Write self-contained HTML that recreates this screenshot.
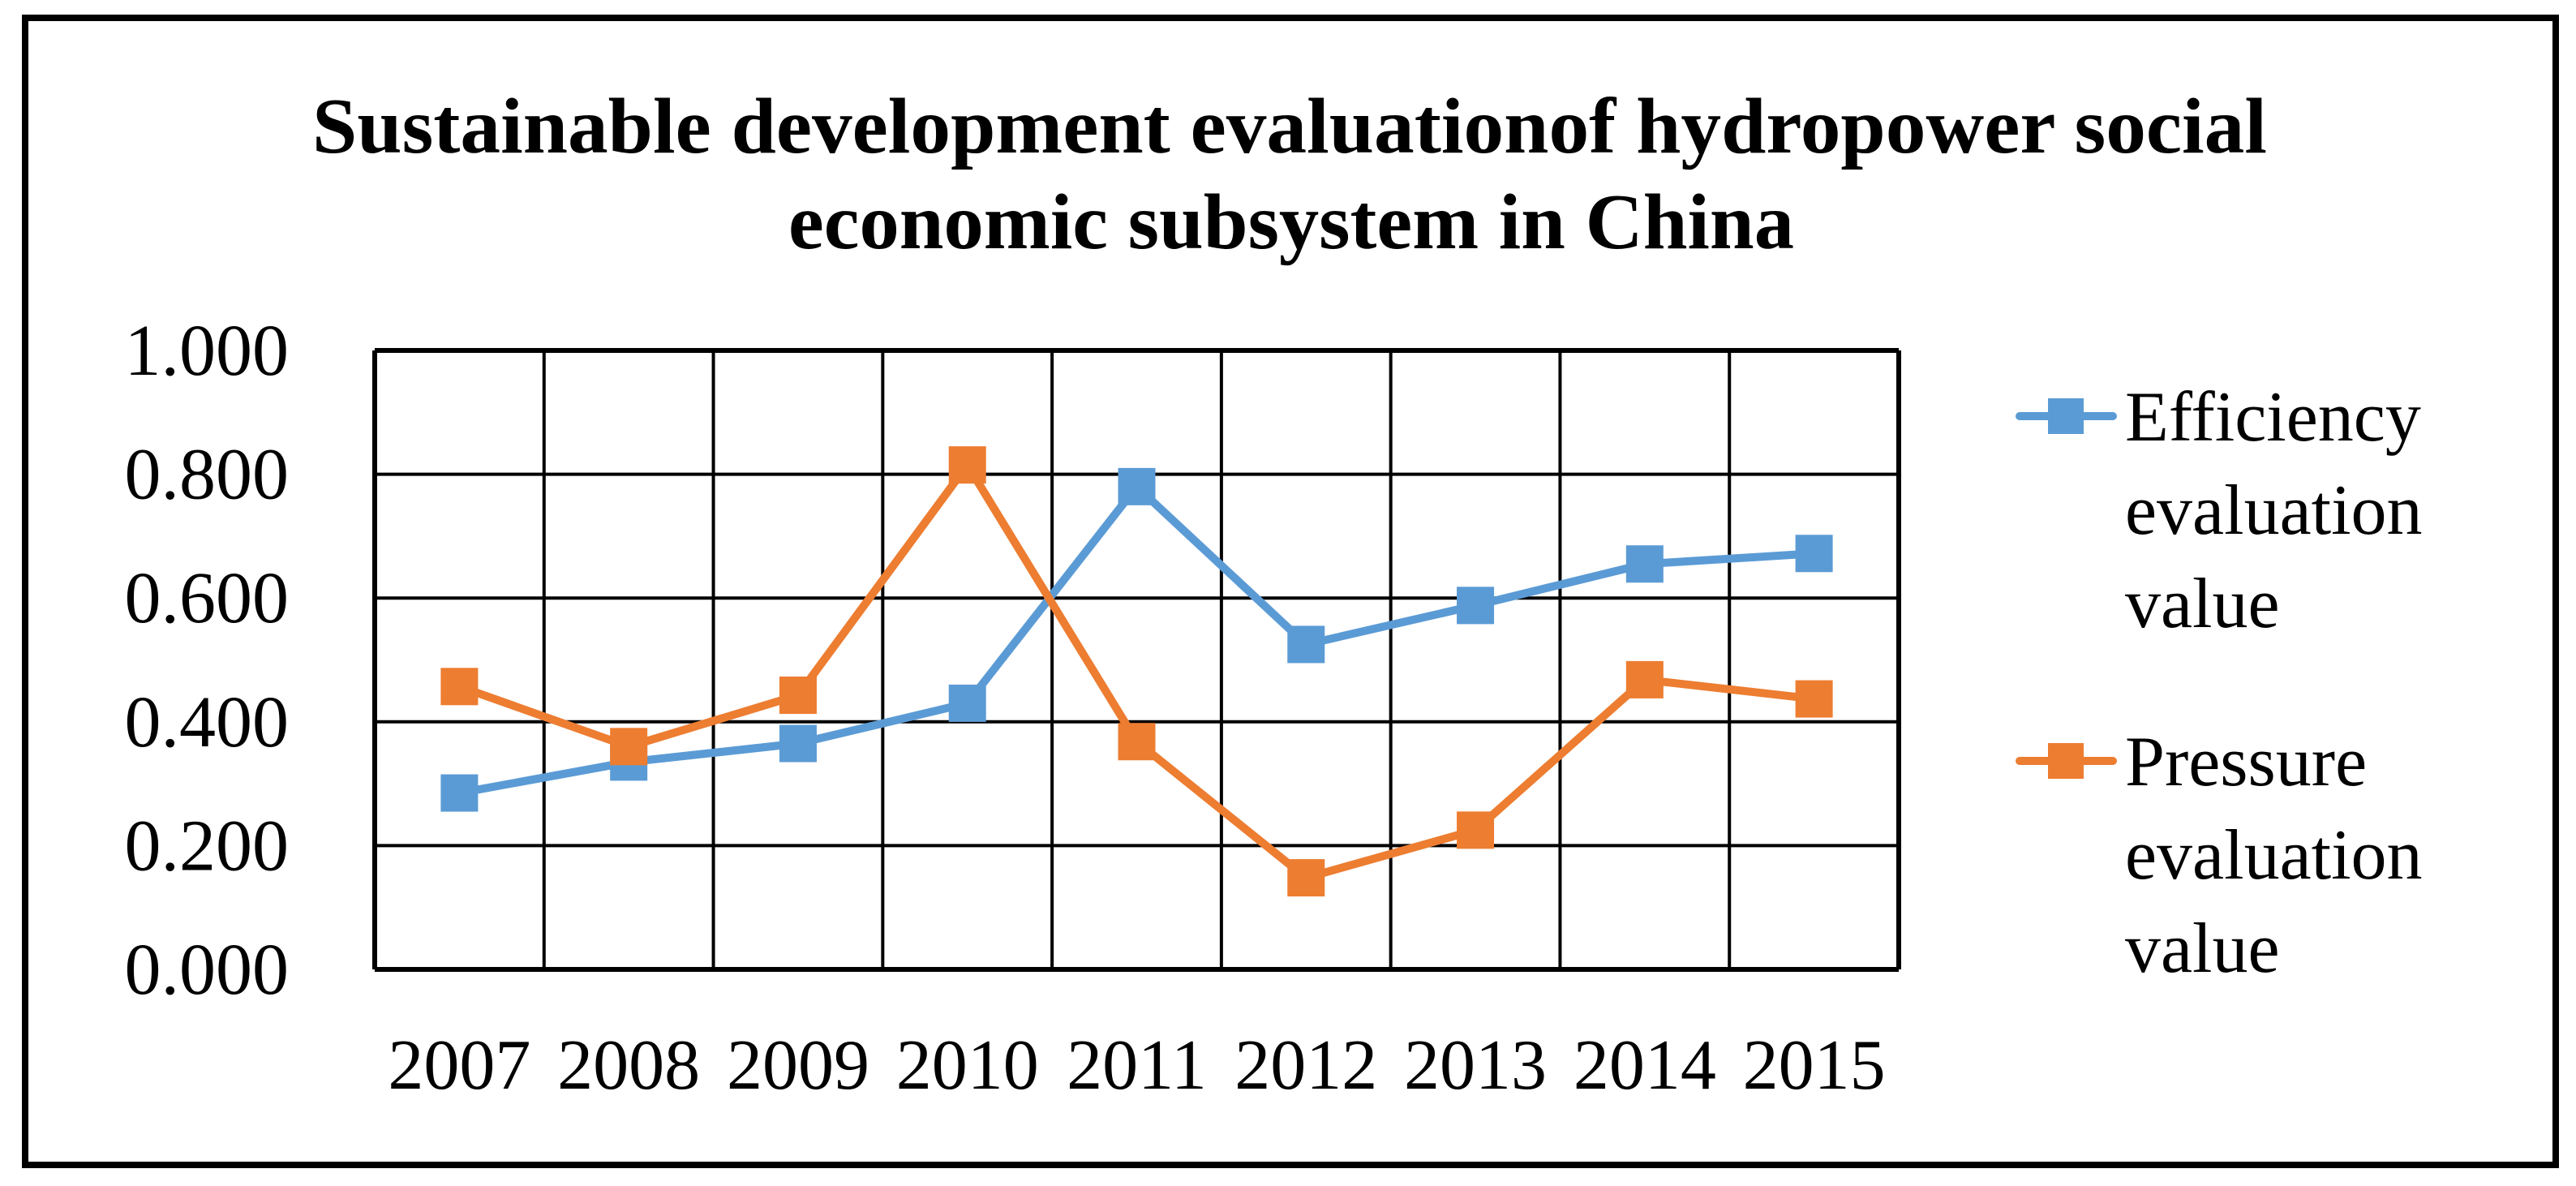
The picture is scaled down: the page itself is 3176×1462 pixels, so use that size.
<!DOCTYPE html>
<html><head><meta charset="utf-8"><style>
html,body{margin:0;padding:0;background:#fff}
svg{display:block}
text{font-family:"Liberation Serif",serif;fill:#000}
</style></head><body>
<svg id="chart" width="3176" height="1462" viewBox="0 0 3176 1462" xmlns="http://www.w3.org/2000/svg">
<rect x="31" y="22" width="3120" height="1414" fill="none" stroke="#000" stroke-width="8"/>
<g>
<text x="1590" y="188" text-anchor="middle" font-weight="bold" font-size="98" textLength="2410" lengthAdjust="spacingAndGlyphs">Sustainable development evaluationof hydropower social</text>
<text x="1592" y="306" text-anchor="middle" font-weight="bold" font-size="98" textLength="1240" lengthAdjust="spacingAndGlyphs">economic subsystem in China</text>
</g>
<g id="grid"></g>
<g id="yticks"></g>
<g id="xticks"></g>
<g id="series"></g>
<g>
<g>
<line x1="2490" y1="513" x2="2605" y2="513" stroke="#5B9BD5" stroke-width="10" stroke-linecap="round"/>
<rect x="2525" y="491" width="44" height="44" fill="#5B9BD5"/>
<text x="2620" y="543" font-size="88">Efficiency</text>
<text x="2620" y="658" font-size="88">evaluation</text>
<text x="2620" y="773" font-size="88">value</text>
</g>
<g>
<line x1="2490" y1="938" x2="2605" y2="938" stroke="#ED7D31" stroke-width="10" stroke-linecap="round"/>
<rect x="2525" y="916" width="44" height="44" fill="#ED7D31"/>
<text x="2620" y="968" font-size="88">Pressure</text>
<text x="2620" y="1083" font-size="88">evaluation</text>
<text x="2620" y="1198" font-size="88">value</text>
</g>
</g>
</svg>
<script>
const categories = ["2007","2008","2009","2010","2011","2012","2013","2014","2015"];
const efficiencyValues = [0.285,0.335,0.365,0.430,0.780,0.525,0.588,0.655,0.672];
const pressureValues = [0.457,0.360,0.443,0.815,0.368,0.148,0.225,0.468,0.437];
const yTicks = [0,0.2,0.4,0.6,0.8,1.0];
const yTickLabels = ["0.000","0.200","0.400","0.600","0.800","1.000"];

const NS="http://www.w3.org/2000/svg";
const L=462,R=2341,T=432,B=1195;
const colW=(R-L)/categories.length;
function xPos(i){return L+colW*(i+0.5);}
function yPos(v){return B-(v-0)/(1-0)*(B-T);}
function mk(tag,attrs,parent){const e=document.createElementNS(NS,tag);for(const k in attrs)e.setAttribute(k,attrs[k]);parent.appendChild(e);return e;}
const grid=document.getElementById('grid');
yTicks.forEach((v,i)=>{
  const l=mk('line',{x1:L,x2:R,y1:yPos(v),y2:yPos(v),stroke:'#000','stroke-width':(i===0||i===yTicks.length-1)?6:4},grid);
  
  
});
for(let i=0;i<=categories.length;i++){
  const x=L+colW*i;
  const l=mk('line',{x1:x,x2:x,y1:T,y2:B,stroke:'#000','stroke-width':(i===0||i===categories.length)?6:4},grid);
  
  
}
const yt=document.getElementById('yticks');
yTicks.forEach((v,i)=>{
  const t=mk('text',{x:356,y:yPos(v)+30,'text-anchor':'end','font-size':90},yt);
  t.textContent=yTickLabels[i];
  
  
});
const xt=document.getElementById('xticks');
categories.forEach((c,i)=>{
  const t=mk('text',{x:xPos(i),y:1342,'text-anchor':'middle','font-size':88},xt);
  t.textContent=c;
  
  
});
const sg=document.getElementById('series');
function drawSeries(vals,color,name){
  const g=mk('g',{},sg);
  
  
  const pts=vals.map((v,i)=>xPos(i)+','+yPos(v)).join(' ');
  const pl=mk('polyline',{points:pts,fill:'none',stroke:color,'stroke-width':10,'stroke-linejoin':'round'},g);
  
  
  vals.forEach((v,i)=>{
    const r=mk('rect',{x:xPos(i)-23,y:yPos(v)-23,width:46,height:46,fill:color},g);
    
    
  });
}
drawSeries(efficiencyValues,'#5B9BD5','efficiency');
drawSeries(pressureValues,'#ED7D31','pressure');
</script>
</body></html>
